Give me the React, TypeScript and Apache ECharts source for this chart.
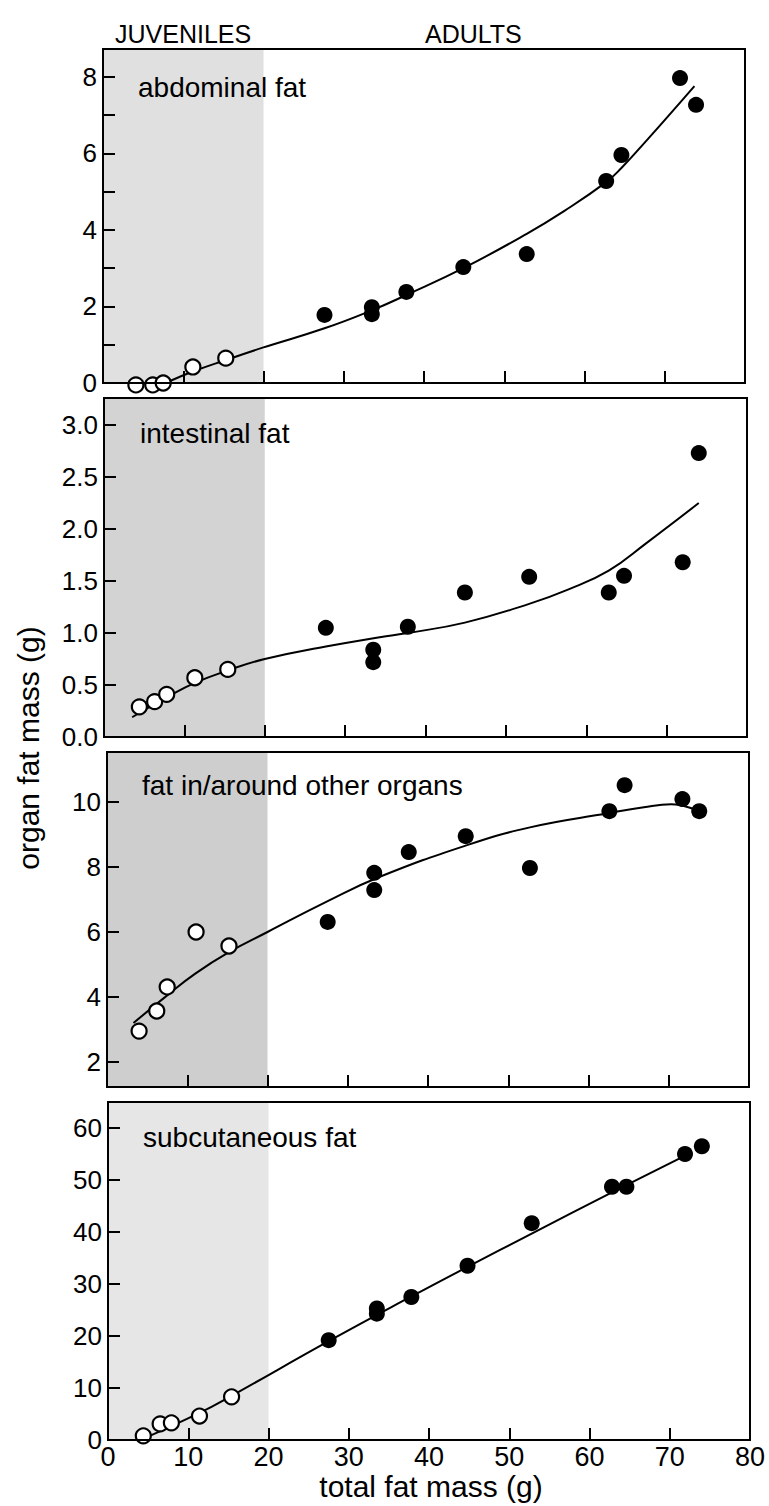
import React, { useEffect, useRef } from "react";
import * as echarts from "echarts";

// ---- data ----
const abdominalJuveniles = [[4.1, -0.05], [6.2, -0.05], [7.5, 0], [11.2, 0.42], [15.3, 0.65]];
const abdominalAdults = [[27.6, 1.78], [33.5, 1.98], [33.5, 1.8], [37.8, 2.38], [44.9, 3.03], [52.8, 3.37], [62.7, 5.28], [64.6, 5.96], [71.9, 7.97], [73.9, 7.27]];
const abdominalFit = [[8, 0.02], [11.2, 0.3], [15.3, 0.6], [20, 0.93], [27.6, 1.43], [33.5, 1.9], [37.8, 2.3], [44.9, 3.0], [52.8, 3.9], [57.5, 4.5], [62.7, 5.25], [64.6, 5.62], [68, 6.4], [73.7, 7.76]];

const intestinalJuveniles = [[4.4, 0.29], [6.3, 0.34], [7.8, 0.41], [11.3, 0.57], [15.4, 0.65]];
const intestinalAdults = [[27.6, 1.05], [33.5, 0.84], [33.5, 0.72], [37.8, 1.06], [44.9, 1.39], [52.9, 1.54], [62.8, 1.39], [64.7, 1.55], [72.0, 1.68], [74.0, 2.73]];
const intestinalFit = [[3.5, 0.19], [7.8, 0.38], [11.3, 0.52], [15.4, 0.64], [20, 0.75], [27.6, 0.87], [34.3, 0.96], [37.8, 1.0], [44.9, 1.1], [52.9, 1.28], [57.8, 1.42], [62.8, 1.6], [67.4, 1.86], [74, 2.25]];

const otherJuveniles = [[4.0, 2.95], [6.2, 3.57], [7.5, 4.31], [11.1, 6.0], [15.2, 5.57]];
const otherAdults = [[27.5, 6.31], [33.3, 7.82], [33.3, 7.29], [37.6, 8.46], [44.7, 8.95], [52.7, 7.97], [62.6, 9.72], [64.5, 10.52], [71.7, 10.09], [73.8, 9.72]];
const otherFit = [[3.3, 3.2], [7.5, 4.05], [11, 4.72], [15.2, 5.38], [20, 6.0], [27.5, 6.95], [34, 7.7], [44.7, 8.66], [52.7, 9.22], [62.6, 9.66], [66.9, 9.84], [70.3, 9.93], [73.8, 9.72]];

const subcutJuveniles = [[4.4, 0.8], [6.5, 3.1], [7.9, 3.3], [11.4, 4.6], [15.4, 8.3]];
const subcutAdults = [[27.5, 19.2], [33.5, 25.3], [33.5, 24.3], [37.8, 27.5], [44.8, 33.5], [52.8, 41.7], [62.8, 48.7], [64.6, 48.7], [71.9, 55.0], [74.0, 56.5]];
const subcutFit = [[4.5, 0.3], [11.4, 5.2], [15.4, 8.5], [27.5, 19], [37.8, 27.6], [44.8, 33.3], [52.8, 39.7], [62.8, 47.6], [71.8, 54.6]];

const panelNames = ["abdominal fat", "intestinal fat", "fat in/around other organs", "subcutaneous fat"];
const juvenileRange = [0, 20];
const xRange = [0, 80];
const xTickStep = 10;
const headerLabels = ["JUVENILES", "ADULTS"];
const xTitle = "total fat mass (g)";
const yTitle = "organ fat mass (g)";

// ---- layout / style ----
const W = 769;
const H = 1506;
const FONT = "'Liberation Sans', Arial, Helvetica, sans-serif";
const grids = [
  { left: 103, right: 24, top: 49, height: 334 },
  { left: 104, right: 22, top: 398, height: 339 },
  { left: 107, right: 20, top: 752, height: 335 },
  { left: 108, right: 19, top: 1102, height: 338 },
];
const shadeColors = ["#e0e0e0", "#d3d3d3", "#cecece", "#e6e6e6"];
const labelPos = [
  { x: 138, y: 87 },
  { x: 140, y: 433 },
  { x: 142, y: 785 },
  { x: 143, y: 1137 },
];

const isMult = (v: number, s: number) => Math.abs(v / s - Math.round(v / s)) < 1e-6;

const yAxes = [
  { min: 0, max: 8.73, interval: 1, fmt: (v: number) => (isMult(v, 2) && v <= 8.001 ? String(Math.round(v)) : "") },
  { min: 0, max: 3.26, interval: 0.5, fmt: (v: number) => (isMult(v, 0.5) && v <= 3.001 ? v.toFixed(1) : "") },
  { min: 1.23, max: 11.54, fmt: (v: number) => (isMult(v, 2) && v > 1.5 && v < 11 ? String(Math.round(v)) : "") },
  { min: 0, max: 65, interval: 10, fmt: (v: number) => (isMult(v, 10) && v <= 60.001 ? String(Math.round(v)) : "") },
];

const panelData = [
  { juv: abdominalJuveniles, adult: abdominalAdults, fit: abdominalFit },
  { juv: intestinalJuveniles, adult: intestinalAdults, fit: intestinalFit },
  { juv: otherJuveniles, adult: otherAdults, fit: otherFit },
  { juv: subcutJuveniles, adult: subcutAdults, fit: subcutFit },
];

function buildOption() {
  const axisLine = { show: true, lineStyle: { color: "#000", width: 2 } };
  const axisTick = { show: true, inside: true, length: 12, lineStyle: { color: "#000", width: 2 } };
  const grid = grids.map((g) => ({
    ...g,
    show: true,
    borderColor: "#000",
    borderWidth: 2,
    backgroundColor: "transparent",
    z: 10,
  }));
  const xAxis = grids.map((_, i) => ({
    type: "value",
    gridIndex: i,
    min: xRange[0],
    max: xRange[1],
    interval: xTickStep,
    z: 10,
    axisLine,
    axisTick,
    splitLine: { show: false },
    axisLabel: {
      show: i === 3,
      color: "#000",
      fontSize: 27,
      fontFamily: FONT,
      margin: 3,
    },
  }));
  const yAxis = yAxes.map((a, i) => {
    const ax: any = {
      type: "value",
      gridIndex: i,
      min: a.min,
      max: a.max,
      z: 10,
      axisLine,
      axisTick,
      splitLine: { show: false },
      axisLabel: {
        color: "#000",
        fontSize: 26,
        fontFamily: FONT,
        margin: 6,
        formatter: a.fmt,
        showMinLabel: true,
        showMaxLabel: true,
      },
    };
    if (a.interval !== undefined) ax.interval = a.interval;
    else ax.splitNumber = 5;
    return ax;
  });
  const series: any[] = [];
  panelData.forEach((p, i) => {
    series.push({
      type: "line",
      xAxisIndex: i,
      yAxisIndex: i,
      data: p.fit,
      smooth: 0.45,
      showSymbol: false,
      symbol: "none",
      clip: false,
      lineStyle: { color: "#000", width: 2 },
      z: 3,
      silent: true,
      markArea: {
        silent: true,
        itemStyle: { color: shadeColors[i] },
        data: [[{ xAxis: juvenileRange[0] }, { xAxis: juvenileRange[1] }]],
      },
    });
    series.push({
      type: "scatter",
      xAxisIndex: i,
      yAxisIndex: i,
      data: p.juv,
      symbol: "circle",
      symbolSize: 15,
      clip: false,
      itemStyle: { color: "#fff", borderColor: "#000", borderWidth: 2.2, opacity: 1 },
      z: 5,
      silent: true,
    });
    series.push({
      type: "scatter",
      xAxisIndex: i,
      yAxisIndex: i,
      data: p.adult,
      symbol: "circle",
      symbolSize: 16,
      clip: false,
      itemStyle: { color: "#000", opacity: 1 },
      z: 5,
      silent: true,
    });
  });

  const textStyle = (size: number) => ({ fill: "#000", fontSize: size, fontFamily: FONT });
  const graphic: any[] = [
    { type: "text", x: 115, y: 34, style: { ...textStyle(25), text: headerLabels[0], textAlign: "left", textVerticalAlign: "middle" } },
    { type: "text", x: 425, y: 34, style: { ...textStyle(25), text: headerLabels[1], textAlign: "left", textVerticalAlign: "middle" } },
    { type: "text", x: 431, y: 1486, style: { ...textStyle(30), text: xTitle, textAlign: "center", textVerticalAlign: "middle" } },
    { type: "text", x: 28, y: 748, rotation: Math.PI / 2, style: { ...textStyle(30), text: yTitle, textAlign: "center", textVerticalAlign: "middle" } },
  ];
  panelNames.forEach((name, i) => {
    graphic.push({
      type: "text",
      x: labelPos[i].x,
      y: labelPos[i].y,
      z: 20,
      style: { ...textStyle(28), text: name, textAlign: "left", textVerticalAlign: "middle" },
    });
  });

  return {
    animation: false,
    backgroundColor: "#fff",
    grid,
    xAxis,
    yAxis,
    series,
    graphic,
  };
}

export default function App() {
  const ref = useRef<HTMLDivElement>(null);
  useEffect(() => {
    document.body.style.margin = "0";
    if (!ref.current) return;
    const chart = echarts.init(ref.current, undefined, { renderer: "svg", width: W, height: H });
    chart.setOption(buildOption() as any);
    return () => chart.dispose();
  }, []);
  return <div ref={ref} style={{ width: W, height: H }} />;
}
